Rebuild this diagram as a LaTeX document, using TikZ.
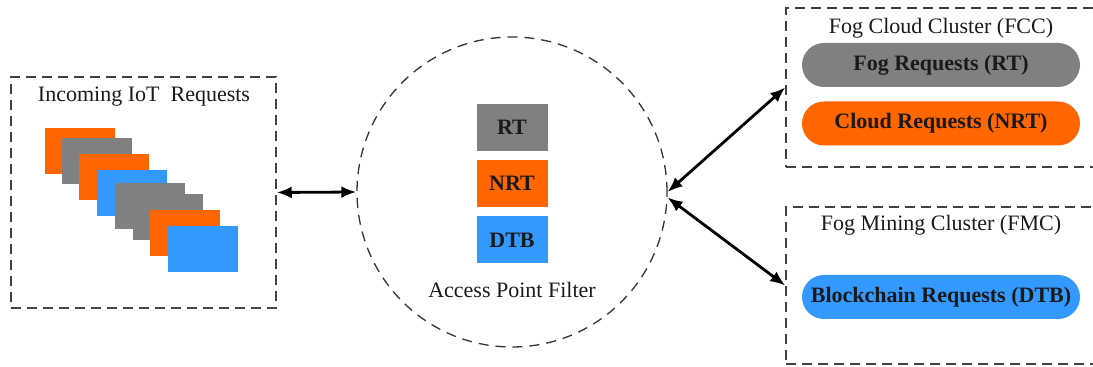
\documentclass[tikz,border=0pt]{standalone}
\usepackage{fontspec}
\setmainfont{Liberation Serif}
\usetikzlibrary{positioning, shapes.geometric, shapes.misc, arrows.meta}
\definecolor{rtgray}{HTML}{808080}
\definecolor{nrtorange}{HTML}{FF6600}
\definecolor{dtbblue}{HTML}{3399FF}
\definecolor{ink}{HTML}{1A1A1A}

\begin{document}
\begin{tikzpicture}[x=0.5pt, y=-0.5pt, font=\fontsize{11}{13}\selectfont, text=ink,
  dashbox/.style={rectangle, draw=black!75, dash pattern=on 5pt off 3pt, line width=0.75pt, inner sep=0pt},
  card/.style={rectangle, minimum width=35pt, minimum height=23pt, inner sep=0pt},
  tag/.style={rectangle, minimum width=35.5pt, minimum height=23.5pt, inner sep=0pt, font=\fontsize{11}{13}\selectfont\bfseries},
  pill/.style={rounded rectangle, minimum width=139pt, minimum height=22pt, inner sep=0pt, font=\fontsize{11}{13}\selectfont\bfseries},
  link/.style={{Latex[length=7.5pt,width=6pt]}-{Latex[length=7.5pt,width=6pt]}, line width=1.4pt}]
  \clip (0,0) rectangle (1093,367);

  % incoming requests
  \node[dashbox, minimum width=132.5pt, minimum height=115.5pt] (iot) at (143.5,192.5) {};
  \node (iottitle) at (144,97) {Incoming IoT\ \ Requests};
  \foreach \cx/\cy/\col [count=\i] in {80/151/nrtorange, 97/161/rtgray, 114/177/nrtorange,
      132/193/dtbblue, 150/206/rtgray, 168/217/rtgray, 185/233/nrtorange, 203/249/dtbblue}
    \node[card, fill=\col] (card\i) at (\cx,\cy) {};

  % filter at the access point
  \node[circle, draw=black!80, dash pattern=on 5pt off 3.5pt, line width=0.65pt, minimum size=155pt, inner sep=0pt] (apf) at (512,192) {};
  \node[tag, fill=rtgray] (rt) at (512,127.5) {RT};
  \node[tag, fill=nrtorange] (nrt) at (512,183.5) {NRT};
  \node[tag, fill=dtbblue] (dtb) at (512,240) {DTB};
  \node (apftitle) at (512,290) {Access Point Filter};

  % clusters on the right
  \node[dashbox, minimum width=157pt, minimum height=79.5pt] (fcc) at (943,87.5) {};
  \node (fcctitle) at (941,28) {Fog Cloud Cluster (FCC)};
  \node[pill, fill=rtgray] (fogreq) at (941,65) {Fog Requests (RT)};
  \node[pill, fill=nrtorange] (cloudreq) at (941,123.5) {Cloud Requests (NRT)};

  \node[dashbox, minimum width=157pt, minimum height=78.5pt] (fmc) at (943,285.5) {};
  \node (fmctitle) at (941,225) {Fog Mining Cluster (FMC)};
  \node[pill, fill=dtbblue] (chainreq) at (941,297) {Blockchain Requests (DTB)};

  % links
  \draw[link] (iot.east) -- (apf.west);
  \draw[link] (apf.east) -- (fcc.west);
  \draw[link] (apf.-2) -- (fmc.west);
\end{tikzpicture}
\end{document}
